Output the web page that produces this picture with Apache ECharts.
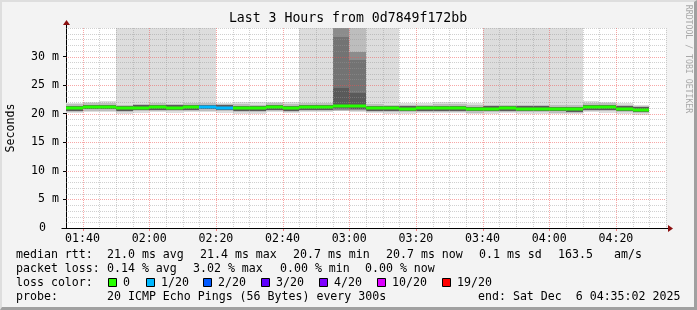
<!DOCTYPE html>
<html><head><meta charset="utf-8">
<script src="https://cdn.jsdelivr.net/npm/echarts@6/dist/echarts.min.js"></script>
<style>
html,body{margin:0;padding:0;background:#f3f3f3;}
#c{width:697px;height:310px;position:absolute;left:0;top:0;}
#frame{position:absolute;left:0;top:0;width:697px;height:310px;box-sizing:border-box;border-style:solid;border-width:2px 3px 3px 2px;border-color:#dedede #a0a0a0 #a0a0a0 #dedede;pointer-events:none;}
</style></head><body>
<div id="c"></div><div id="frame"></div>
<script>
// ---- data ----
const startTime = '01:35:02';
const endTime = '04:35:02';
const stepEnds = ['01:40','01:45','01:50','01:55','02:00','02:05','02:10','02:15','02:20','02:25',
  '02:30','02:35','02:40','02:45','02:50','02:55','03:00','03:05','03:10','03:15',
  '03:20','03:25','03:30','03:35','03:40','03:45','03:50','03:55','04:00','04:05',
  '04:10','04:15','04:20','04:25','04:30'];
const medianRtt = [21.0,21.2,21.2,20.95,21.05,21.15,21.05,21.15,21.2,21.05,
  20.95,20.95,21.15,21.0,21.15,21.15,21.4,21.3,21.0,20.95,
  20.9,20.95,21.0,21.0,20.85,20.9,20.95,20.9,20.9,20.85,
  20.8,21.15,21.15,20.9,20.7];
const lossIndex = [0,0,0,0,0,0,0,0,1,1, 0,0,0,0,0,0,0,0,0,0, 0,0,0,0,0,0,0,0,0,0, 0,0,0,0,0];
const smokeOuter = [[20.1,21.85],[20.3,22.05],[20.3,22.25],[19.95,40],[20.15,40],[20.25,40],[20.15,40],[20.25,40],[20.3,40],[20.15,21.95],
  [19.95,22.1],[20.0,22.1],[20.25,22.1],[20.1,22.0],[20.25,40],[20.25,40],[20.4,40],[20.3,40],[20.1,40],[19.95,40],
  [20.0,21.9],[20.05,21.85],[20.05,22.1],[20.1,22.0],[19.95,21.8],[20.0,40],[20.05,40],[19.95,40],[20.0,40],[19.9,40],
  [19.9,40],[20.25,22.3],[20.1,22.1],[20.0,21.9],[19.85,21.6]];
const smokeMid = [[20.35,21.65],[20.55,21.85],[20.55,21.9],[20.3,21.6],[20.4,21.7],[20.5,21.8],[20.4,21.7],[20.5,21.85],[20.55,21.85],[20.4,21.7],
  [20.3,21.65],[20.3,21.6],[20.5,21.8],[20.35,21.65],[20.5,21.8],[20.5,21.8],[20.5,40],[20.5,40],[20.35,21.65],[20.3,21.6],
  [20.25,21.55],[20.3,21.6],[20.35,21.65],[20.35,21.65],[20.2,21.5],[20.25,21.55],[20.3,21.6],[20.25,21.55],[20.25,21.55],[20.2,21.5],
  [20.15,21.45],[20.5,21.85],[20.5,21.8],[20.25,21.55],[20.1,21.35]];
const smokeDeep = [null,null,null,null,null,null,null,null,null,null, null,null,null,null,null,null,[20.7,40],[20.6,30.8],null,null,
  null,null,null,null,null,null,null,null,null,null, null,null,null,null,null];
const smokeInner = [null,null,null,null,null,null,null,null,null,null, null,null,null,null,null,null,[20.8,33.4],[20.8,29.4],null,null,
  null,null,null,null,null,null,null,null,null,null, null,null,null,null,null];
const smokeCore = [[20.55,21.4],[20.75,21.6],[20.75,21.6],[20.5,21.35],[20.6,21.45],[20.7,21.55],[20.6,21.45],[20.7,21.55],[20.75,21.6],[20.6,21.45],
  [20.5,21.35],[20.5,21.35],[20.7,21.55],[20.55,21.4],[20.7,21.55],[20.7,21.55],[21.0,24.5],[20.9,23.6],[20.55,21.4],[20.5,21.35],
  [20.45,21.3],[20.5,21.35],[20.55,21.4],[20.55,21.4],[20.4,21.25],[20.45,21.3],[20.5,21.35],[20.45,21.3],[20.45,21.3],[20.4,21.25],
  [20.35,21.2],[20.7,21.55],[20.7,21.55],[20.45,21.3],[20.3,21.1]];
const xMajorTicks = ['01:40','02:00','02:20','02:40','03:00','03:20','03:40','04:00','04:20'];
const xMinorTicks = ['01:45','01:50','01:55','02:05','02:10','02:15','02:25','02:30','02:35','02:45','02:50','02:55',
  '03:05','03:10','03:15','03:25','03:30','03:35','03:45','03:50','03:55','04:05','04:10','04:15','04:25','04:30','04:35'];
const yMajorTicks = [5,10,15,20,25,30];
const yMinorTicks = [1,2,3,4,6,7,8,9,11,12,13,14,16,17,18,19,21,22,23,24,26,27,28,29,31,32,33,34,35];
const lossLabels = ['0','1/20','2/20','3/20','4/20','10/20','19/20'];
const lossColors = ['#26ff00','#00b8ff','#0059ff','#5e00ff','#7e00ff','#dd00ff','#ff0000'];
const statsRtt = ['median rtt:','21.0 ms avg','21.4 ms max','20.7 ms min','20.7 ms now','0.1 ms sd','163.5','am/s'];
const statsLoss = ['packet loss:','0.14 % avg','3.02 % max','0.00 % min','0.00 % now'];
const probeText = ['probe:','20 ICMP Echo Pings (56 Bytes) every 300s','end: Sat Dec  6 04:35:02 2025'];
const titleText = 'Last 3 Hours from 0d7849f172bb';
const yName = 'Seconds';

// ---- helpers ----
function toMin(t){const p=t.split(':').map(Number);return p[0]*60+p[1]+(p[2]||0)/60;}
const xMin = toMin(startTime), xMax = toMin(endTime);
const stepEndMin = stepEnds.map(toMin);
const stepStartMin = stepEndMin.map(v=>Math.max(xMin, v-5));
const MONO = '"DejaVu Sans Mono", monospace';
const FONT = '11.6px ' + MONO;

function clipTo(params, r){
  const cs = params.coordSys;
  return echarts.graphic.clipRectByRect(r, {x:cs.x,y:cs.y,width:cs.width,height:cs.height});
}
function layerSeries(name, pairs, color, z){
  const data = [];
  pairs.forEach((p,i)=>{ if(p) data.push([stepStartMin[i], stepEndMin[i], p[0], p[1]]); });
  return {type:'custom', name, z, silent:true, animation:false,
    encode:{x:[0,1], y:[2,3]}, data,
    renderItem(params, api){
      const a = api.coord([api.value(0), api.value(3)]);
      const b = api.coord([api.value(1), api.value(2)]);
      const x0 = Math.round(a[0]), x1 = Math.round(b[0]);
      const y0 = Math.round(a[1]), y1 = Math.round(b[1]);
      const shape = clipTo(params, {x:x0, y:y0, width:x1-x0, height:Math.max(1,y1-y0)});
      return shape ? {type:'rect', shape, style:{fill:color}} : null;
    }};
}
const medianData = medianRtt.map((m,i)=>[stepStartMin[i], stepEndMin[i], m]);
const medianSeries = {type:'custom', name:'median', z:10, silent:true, animation:false,
  encode:{x:[0,1], y:2}, data: medianData,
  renderItem(params, api){
    const a = api.coord([api.value(0), api.value(2)]);
    const b = api.coord([api.value(1), api.value(2)]);
    const x0 = Math.round(a[0]), x1 = Math.round(b[0]);
    const yc = Math.round(a[1]);
    return {type:'rect', shape:{x:x0, y:yc-1.5, width:x1-x0, height:3}, style:{fill: lossColors[lossIndex[params.dataIndex]]}};
  }};
function xGridSeries(ticks, color, z){
  return {type:'custom', silent:true, z, animation:false, encode:{x:0,y:1},
    data: ticks.map(t=>[toMin(t), 0]),
    renderItem(params, api){
      const cs = params.coordSys;
      const x = Math.round(api.coord([api.value(0),0])[0]) + 0.5;
      if (x > cs.x + cs.width + 1) return null;
      return {type:'line', shape:{x1:x,y1:cs.y,x2:x,y2:cs.y+cs.height}, style:{stroke:color,lineWidth:1,lineDash:[1,1]}};
    }};
}
function yGridSeries(ticks, color, z){
  return {type:'custom', silent:true, z, animation:false, encode:{x:0,y:1},
    data: ticks.map(v=>[xMin, v]),
    renderItem(params, api){
      const cs = params.coordSys;
      const y = Math.round(api.coord([xMin, api.value(1)])[1]) + 0.5;
      return {type:'line', shape:{x1:cs.x,y1:y,x2:cs.x+cs.width,y2:y}, style:{stroke:color,lineWidth:1,lineDash:[1,1]}};
    }};
}
const xLabelSeries = {type:'custom', silent:true, z:12, animation:false, encode:{x:0,y:1},
  data: xMajorTicks.map(t=>[toMin(t), 0]),
  renderItem(params, api){
    const cs = params.coordSys;
    const p = api.coord([api.value(0), 0]);
    return {type:'group', children:[
      {type:'text', x:p[0], y:cs.y+cs.height+10.5, style:{text:xMajorTicks[params.dataIndex], font:FONT, fill:'#000', align:'center', verticalAlign:'middle'}},
      {type:'line', shape:{x1:Math.round(p[0])+0.5,y1:cs.y+cs.height+1,x2:Math.round(p[0])+0.5,y2:cs.y+cs.height+3}, style:{stroke:'#f08080',lineWidth:1}}
    ]};
  }};

const chart = echarts.init(document.getElementById('c'), null, {renderer:'canvas'});
const GRID = {left:66, top:28, width:600, height:200};

function txt(x,y,s,extra){return Object.assign({type:'text', x, y, silent:true, style:{text:s, font:FONT, fill:'#000', align:'left', verticalAlign:'middle'}}, extra||{});}
const graphics = [];
graphics.push({type:'text', x:348, y:19, silent:true, style:{text:titleText, font:'13.2px '+MONO, fill:'#000', align:'center', verticalAlign:'middle'}});
graphics.push({type:'text', x:11, y:128, rotation:Math.PI/2, silent:true, style:{text:yName, font:FONT, fill:'#000', align:'center', verticalAlign:'middle'}});
graphics.push({type:'text', x:688, y:59, rotation:-Math.PI/2, silent:true, style:{text:'RRDTOOL / TOBI OETIKER', font:'8.2px '+MONO, fill:'#a8a8a8', align:'center', verticalAlign:'middle'}});
const rttX = [16,107,200,293,386,479,558,614];
statsRtt.forEach((s,i)=>graphics.push(txt(rttX[i],254.5,s)));
const lossX = [16,107,193,280,365];
statsLoss.forEach((s,i)=>graphics.push(txt(lossX[i],268.5,s)));
graphics.push(txt(16,282.5,'loss color:'));
const boxX = [108,146,203,261,319,377,442];
lossLabels.forEach((s,i)=>{
  graphics.push({type:'rect', silent:true, shape:{x:boxX[i]+0.5,y:278.5,width:8,height:8}, style:{fill:lossColors[i], stroke:'#000', lineWidth:1}});
  graphics.push(txt(boxX[i]+15,282.5,s));
});
const probeX = [16,107,478];
probeText.forEach((s,i)=>graphics.push(txt(probeX[i],296.5,s)));

chart.setOption({
  animation:false,
  backgroundColor:'#f3f3f3',
  grid:Object.assign({show:true, backgroundColor:'#ffffff', borderWidth:0}, GRID),
  xAxis:{type:'value', min:xMin, max:xMax, axisLine:{show:true, lineStyle:{color:'#000', width:1}}, axisTick:{show:false}, axisLabel:{show:false}, splitLine:{show:false}},
  yAxis:{type:'value', min:0, max:35, interval:5,
    axisLine:{show:true, lineStyle:{color:'#000', width:1}},
    axisTick:{show:true, length:3, lineStyle:{color:'#000'}},
    axisLabel:{margin:7, color:'#000', fontFamily:MONO, fontSize:11.6, showMaxLabel:false,
      formatter:v=> v===0 ? '{z|0}' : (v===35 ? '' : v+' m'),
      rich:{z:{fontFamily:MONO, fontSize:11.6, color:'#000', padding:[0,13,0,0]}}},
    splitLine:{show:false}},
  graphic: graphics,
  series:[
    layerSeries('outer', smokeOuter, '#dddddd', 2),
    layerSeries('mid', smokeMid, '#bdbdbd', 3),
    layerSeries('deep', smokeDeep, '#8c8c8c', 4),
    layerSeries('inner', smokeInner, '#737373', 5),
    layerSeries('core', smokeCore, '#5a5a5a', 6),
    xGridSeries(xMinorTicks, 'rgba(150,150,150,0.45)', 7),
    yGridSeries(yMinorTicks, 'rgba(150,150,150,0.45)', 7),
    xGridSeries(xMajorTicks, 'rgba(240,80,80,0.5)', 8),
    yGridSeries(yMajorTicks, 'rgba(240,80,80,0.5)', 8),
    medianSeries,
    xLabelSeries
  ]
});
// axis arrows (dark red), placed from the axis scales
const o = chart.convertToPixel({gridIndex:0}, [xMin, 0]);
const t = chart.convertToPixel({gridIndex:0}, [xMin, 35]);
const r = chart.convertToPixel({gridIndex:0}, [xMax, 0]);
const ax = Math.round(o[0])+0.5, ay = Math.round(o[1])+0.5;
graphics.push({type:'line', silent:true, z:20, shape:{x1:ax,y1:t[1],x2:ax,y2:t[1]-6}, style:{stroke:'#000',lineWidth:1}});
graphics.push({type:'polygon', silent:true, z:20, shape:{points:[[ax-3.5,t[1]-3],[ax+3.5,t[1]-3],[ax,t[1]-8]]}, style:{fill:'#8b1010'}});
graphics.push({type:'line', silent:true, z:20, shape:{x1:r[0],y1:ay,x2:r[0]+3,y2:ay}, style:{stroke:'#000',lineWidth:1}});
graphics.push({type:'polygon', silent:true, z:20, shape:{points:[[r[0]+2,ay-3.5],[r[0]+2,ay+3.5],[r[0]+7,ay]]}, style:{fill:'#8b1010'}});
graphics.push({type:'line', silent:true, z:20, shape:{x1:ax-5,y1:ay,x2:ax,y2:ay}, style:{stroke:'#000',lineWidth:1}});
chart.setOption({graphic: graphics});
</script>
</body></html>
